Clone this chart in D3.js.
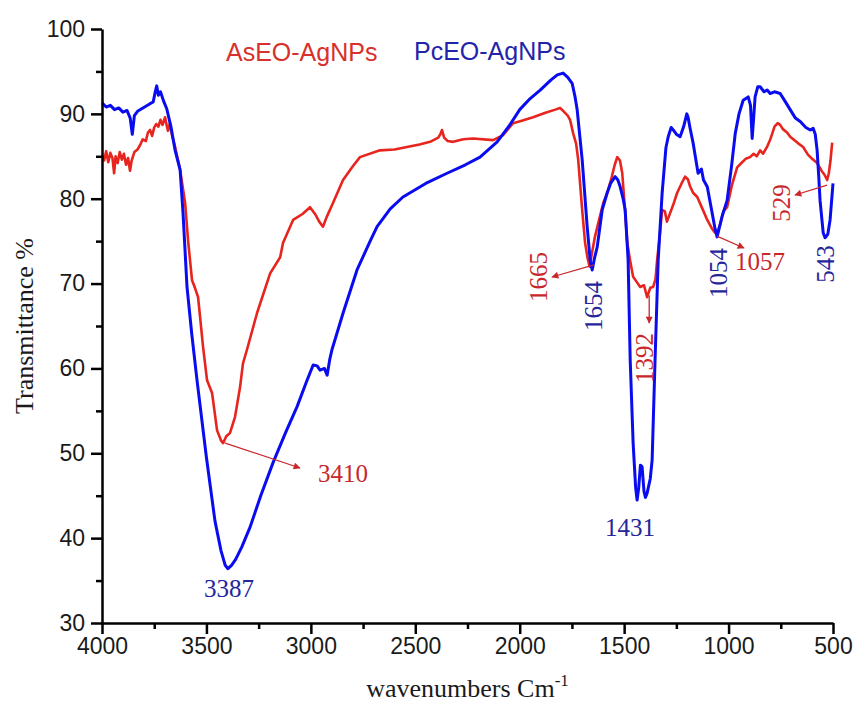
<!DOCTYPE html>
<html>
<head>
<meta charset="utf-8">
<script src="https://cdn.jsdelivr.net/npm/d3@7"></script>
<style>
  body { margin: 0; background: #fff; }
  svg { display: block; }
</style>
</head>
<body>
<div id="chart"></div>
<script>
// PcEO-AgNPs (blue) : wavenumber / transmittance
const pcWavenumbers = [4000, 3980, 3960, 3940, 3920, 3900, 3880, 3865, 3855, 3845, 3830, 3810, 3790, 3770, 3755, 3745, 3738, 3730, 3720, 3705, 3690, 3670, 3650, 3626, 3612, 3593, 3570, 3545, 3500, 3459, 3430, 3410, 3397, 3380, 3360, 3330, 3291, 3240, 3181, 3120, 3066, 3020, 2989, 2970, 2956, 2935, 2922, 2910, 2899, 2846, 2779, 2720, 2683, 2620, 2559, 2450, 2348, 2260, 2190, 2108, 2050, 2000, 1950, 1902, 1850, 1820, 1792, 1770, 1749, 1735, 1725, 1701, 1677, 1662, 1653, 1642, 1629, 1605, 1581, 1565, 1543, 1530, 1519, 1505, 1495, 1481, 1471, 1457, 1445, 1438, 1430, 1422, 1414, 1405, 1398, 1390, 1375, 1366, 1352, 1337, 1318, 1300, 1289, 1275, 1265, 1250, 1232, 1215, 1200, 1194, 1185, 1170, 1146, 1130, 1120, 1102, 1080, 1065, 1055, 1045, 1030, 1007, 985, 968, 950, 930, 906, 895, 887, 880, 873, 860, 849, 830, 815, 801, 780, 753, 730, 705, 680, 657, 630, 609, 595, 585, 576, 568, 562, 547, 538, 525, 514, 500]
const pcTransmittance = [91.3, 90.8, 91.0, 90.5, 90.7, 90.2, 90.4, 89.5, 87.6, 89.8, 90.3, 90.6, 90.9, 91.2, 91.4, 92.6, 93.3, 92.2, 92.6, 91.5, 90.6, 88.5, 85.7, 83.4, 78.3, 69.6, 64, 58.6, 49.5, 42, 38.5, 36.8, 36.4, 36.8, 37.5, 39, 41.3, 45, 48.9, 52.5, 55.5, 58.5, 60.4, 60.3, 59.8, 60.0, 59.2, 61, 62.2, 66.5, 71.6, 74.8, 76.7, 78.8, 80.2, 81.8, 83.0, 84.0, 84.9, 86.7, 88.6, 90.5, 91.8, 92.8, 94.0, 94.6, 94.8, 94.3, 93.6, 92, 90.5, 84.6, 76.7, 72.6, 71.6, 73, 74.3, 78.7, 80.7, 81.8, 82.6, 82.2, 81.4, 80, 78.7, 72.8, 61, 51.2, 46, 44.5, 46, 48.6, 48.4, 45.5, 44.8, 45.3, 47, 49.2, 61, 72.8, 80.7, 86, 87.3, 88.4, 88.1, 87.6, 87.3, 88.5, 90, 89.6, 88.4, 86.6, 83, 83.5, 82.2, 81.4, 78.5, 76.5, 75.5, 76.5, 78, 79.8, 84, 87.7, 90, 91.6, 92, 91, 87.1, 89.5, 92, 93.2, 93.2, 92.6, 92.8, 92.4, 92.6, 92.4, 91.5, 90.5, 89.5, 89.1, 88.4, 88.1, 88.3, 87.6, 85.7, 82.5, 79.8, 76, 75.4, 75.8, 77.5, 81.8]

// AsEO-AgNPs (red)
const asWavenumbers = [4000, 3990, 3980, 3970, 3960, 3950, 3942, 3935, 3925, 3915, 3905, 3895, 3885, 3875, 3866, 3858, 3845, 3830, 3818, 3805, 3790, 3780, 3770, 3760, 3750, 3740, 3730, 3720, 3710, 3698, 3690, 3684, 3675, 3665, 3650, 3626, 3602, 3588, 3569, 3555, 3540, 3516, 3497, 3473, 3449, 3430, 3420, 3405, 3387, 3363, 3339, 3325, 3306, 3258, 3195, 3147, 3133, 3085, 3040, 3004, 2980, 2960, 2942, 2925, 2894, 2846, 2800, 2765, 2669, 2600, 2540, 2480, 2429, 2390, 2380, 2372, 2362, 2345, 2319, 2270, 2223, 2127, 2080, 2032, 1990, 1936, 1880, 1830, 1807, 1790, 1770, 1759, 1744, 1730, 1720, 1701, 1687, 1675, 1665, 1655, 1640, 1620, 1600, 1581, 1560, 1545, 1533, 1520, 1509, 1497, 1485, 1470, 1457, 1440, 1423, 1405, 1390, 1375, 1361, 1350, 1342, 1330, 1318, 1305, 1295, 1280, 1262, 1246, 1225, 1208, 1195, 1185, 1170, 1150, 1125, 1102, 1080, 1065, 1055, 1040, 1025, 1007, 985, 959, 935, 918, 897, 880, 865, 849, 835, 816, 800, 780, 765, 753, 740, 720, 705, 680, 660, 643, 620, 600, 576, 555, 540, 528, 520, 512, 504]
const asTransmittance = [85.2, 84.5, 85.6, 84.3, 85.4, 84.8, 83.0, 85.0, 84.2, 85.5, 84.6, 85.3, 84.0, 84.8, 83.3, 84.5, 85.5, 85.8, 86.3, 87.0, 86.8, 87.8, 88.1, 87.4, 88.4, 88.8, 88.5, 89.3, 88.7, 89.6, 88.6, 88.0, 88.9, 87.5, 86.1, 83.4, 79.5, 75.1, 70.4, 69.5, 68.4, 62.5, 58.6, 57.1, 52.7, 51.5, 51.2, 52, 52.4, 54.3, 57.8, 60.6, 62.2, 66.5, 71.2, 73.1, 74.8, 77.5, 78.2, 79, 78.2, 77.3, 76.7, 77.8, 79.5, 82.2, 83.8, 84.9, 85.7, 85.8, 86.1, 86.4, 86.7, 87.2, 87.6, 88.1, 87.2, 86.8, 86.7, 87.0, 87.1, 86.9, 87.5, 88.9, 89.2, 89.6, 90.1, 90.5, 90.7, 90.3, 89.8, 89.3, 87.7, 86.5, 84.6, 78.7, 74.8, 73, 72, 73.5, 75.5, 77.5, 79.5, 80.7, 82.5, 84, 84.9, 84.5, 83, 79, 74.8, 72.5, 70.8, 70.2, 69.6, 69.8, 68.4, 69.5, 69.6, 70.5, 72.8, 75.5, 78.7, 78.5, 77.3, 78.3, 79.5, 80.7, 81.8, 82.6, 82.3, 81.5, 80.7, 80.2, 78.8, 77.5, 76.5, 76, 75.9, 77, 78.5, 79, 81.5, 83.7, 84.3, 84.7, 84.9, 85.3, 85.0, 85.7, 85.3, 86.1, 87, 88.5, 88.9, 88.7, 88.2, 87.8, 87.3, 86.8, 86.4, 86.1, 85.2, 84.7, 84.2, 83.3, 82.8, 82.2, 83, 84.5, 86.6]

const xTicks = [4000, 3500, 3000, 2500, 2000, 1500, 1000, 500]
const xMinorTicks = [3750, 3250, 2750, 2250, 1750, 1250, 750]
const yTicks = [30, 40, 50, 60, 70, 80, 90, 100]
const yMinorTicks = [35, 45, 55, 65, 75, 85, 95]

const seriesNames = ['AsEO-AgNPs', 'PcEO-AgNPs']

// peak labels: [text, series, wavenumber-ish anchor handled below]
const peakLabels = ['3410', '3387', '1665', '1654', '1392', '1431', '1054', '1057', '529', '543']

const width = 856, height = 706
const margin = { top: 29, right: 23, bottom: 83, left: 102 }

const redLine = '#e8241e', blueLine = '#0a0cf0'
const redText = '#c8282c', blueText = '#26269c'

const svg = d3.select('#chart').append('svg')
  .attr('width', width)
  .attr('height', height)

const x = d3.scaleLinear().domain([4000, 500]).range([margin.left, width - margin.right])
const y = d3.scaleLinear().domain([30, 100]).range([height - margin.bottom, margin.top])

function toPoints(wn, t) {
  return wn.map((w, i) => [w, t[i]])
}

const line = d3.line().x(d => x(d[0])).y(d => y(d[1]))

svg.append('path')
  .datum(toPoints(asWavenumbers, asTransmittance))
  .attr('fill', 'none')
  .attr('stroke', redLine)
  .attr('stroke-width', 2.6)
  .attr('stroke-linejoin', 'round')
  .attr('d', line)

svg.append('path')
  .datum(toPoints(pcWavenumbers, pcTransmittance))
  .attr('fill', 'none')
  .attr('stroke', blueLine)
  .attr('stroke-width', 3)
  .attr('stroke-linejoin', 'round')
  .attr('d', line)

// axes
const xAxis = svg.append('g')
  .attr('transform', `translate(0, ${y(30)})`)
  .call(d3.axisBottom(x).tickValues(xTicks).tickSize(11).tickSizeOuter(0).tickPadding(4).tickFormat(d3.format('d')))
svg.append('g')
  .attr('transform', `translate(0, ${y(30)})`)
  .call(d3.axisBottom(x).tickValues(xMinorTicks).tickSize(6).tickFormat(''))
  .select('.domain').remove()

const yAxis = svg.append('g')
  .attr('transform', `translate(${x(4000)}, 0)`)
  .call(d3.axisLeft(y).tickValues(yTicks).tickSize(11).tickSizeOuter(0).tickPadding(6))
svg.append('g')
  .attr('transform', `translate(${x(4000)}, 0)`)
  .call(d3.axisLeft(y).tickValues(yMinorTicks).tickSize(6).tickFormat(''))
  .select('.domain').remove()

svg.selectAll('.domain').attr('stroke', '#000').attr('stroke-width', 2.5)
svg.selectAll('.tick line').attr('stroke', '#000').attr('stroke-width', 2.5)
svg.selectAll('.tick text')
  .attr('font-family', '"Liberation Sans", Arial, sans-serif')
  .attr('font-size', 23)
  .attr('fill', '#1a1a1a')

// axis titles
svg.append('text')
  .attr('transform', `translate(33, ${(y(30) + y(100)) / 2}) rotate(-90)`)
  .attr('text-anchor', 'middle')
  .attr('font-family', '"Liberation Serif", "Times New Roman", serif')
  .attr('font-size', 26)
  .attr('fill', '#1a1a1a')
  .text('Transmittance %')

const xTitle = svg.append('text')
  .attr('x', (x(4000) + x(500)) / 2)
  .attr('y', 697)
  .attr('text-anchor', 'middle')
  .attr('font-family', '"Liberation Serif", "Times New Roman", serif')
  .attr('font-size', 26)
  .attr('fill', '#1a1a1a')
xTitle.append('tspan').text('wavenumbers Cm')
xTitle.append('tspan').attr('dy', -11).attr('font-size', 17).text('-1')

// legend labels
svg.append('text')
  .attr('x', 226).attr('y', 61)
  .attr('font-family', '"Liberation Sans", Arial, sans-serif')
  .attr('font-size', 25)
  .attr('fill', '#d8302c')
  .text(seriesNames[0])
svg.append('text')
  .attr('x', 414).attr('y', 60)
  .attr('font-family', '"Liberation Sans", Arial, sans-serif')
  .attr('font-size', 25)
  .attr('fill', '#2424aa')
  .text(seriesNames[1])

// arrow markers
svg.append('defs').append('marker')
  .attr('id', 'head')
  .attr('viewBox', '0 0 10 10')
  .attr('refX', 9).attr('refY', 5)
  .attr('markerWidth', 9).attr('markerHeight', 7)
  .attr('markerUnits', 'userSpaceOnUse')
  .attr('orient', 'auto')
  .append('path')
  .attr('d', 'M0,0 L10,5 L0,10 Z')
  .attr('fill', redText)

// annotation layout: label, colour, cx, cy, rotated, arrow [wn, T, x2, y2]
const annotations = [
  { t: peakLabels[0], c: redText, cx: 343, cy: 473, rot: false, arrow: [3410, 51.2, 300, 468] },
  { t: peakLabels[1], c: blueText, cx: 229, cy: 588, rot: false },
  { t: peakLabels[2], c: redText, cx: 538, cy: 277, rot: true, arrow: [1645, 72.2, 552, 277] },
  { t: peakLabels[3], c: blueText, cx: 593, cy: 306, rot: true },
  { t: peakLabels[4], c: redText, cx: 644, cy: 358, rot: true, arrow: [1380, 68.6, x(1380), 323] },
  { t: peakLabels[5], c: blueText, cx: 630, cy: 527, rot: false },
  { t: peakLabels[6], c: blueText, cx: 718, cy: 273, rot: true },
  { t: peakLabels[7], c: redText, cx: 760, cy: 261, rot: false, arrow: [1056, 75.6, 744, 248] },
  { t: peakLabels[8], c: redText, cx: 781, cy: 203, rot: true, arrow: [528, 81.6, 795, 195] },
  { t: peakLabels[9], c: blueText, cx: 825, cy: 264, rot: true }
]

annotations.forEach(a => {
  if (a.arrow) {
    svg.append('line')
      .attr('x1', x(a.arrow[0])).attr('y1', y(a.arrow[1]))
      .attr('x2', a.arrow[2]).attr('y2', a.arrow[3])
      .attr('stroke', redText)
      .attr('stroke-width', 1.3)
      .attr('marker-end', 'url(#head)')
  }
  svg.append('text')
    .attr('transform', `translate(${a.cx}, ${a.cy})` + (a.rot ? ' rotate(-90)' : ''))
    .attr('text-anchor', 'middle')
    .attr('dominant-baseline', 'central')
    .attr('font-family', '"Liberation Serif", "Times New Roman", serif')
    .attr('font-size', 25)
    .attr('fill', a.c)
    .text(a.t)
})
</script>
</body>
</html>
